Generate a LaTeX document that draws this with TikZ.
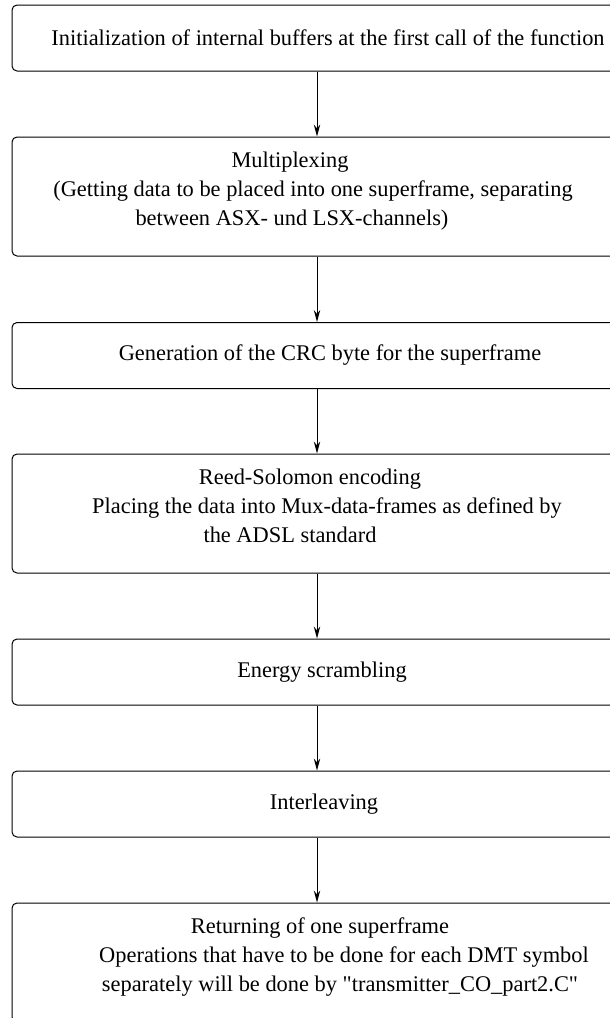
\documentclass[tikz,border=0pt]{standalone}
\usepackage{fontspec}
\setmainfont{Liberation Serif}
\usetikzlibrary{arrows.meta}

\newcommand{\pushr}[1]{\mbox{}\hspace*{#1}}
\newcommand{\pushl}[1]{\hspace*{#1}\mbox{}}
\newcommand{\bajo}{\rule[-8pt]{0pt}{8pt}}

\begin{document}
\begin{tikzpicture}[x=0.5pt, y=-0.5pt,
	caja/.style={draw, rounded corners=2.5pt, line width=0.5pt, minimum width=305pt,
		inner sep=0pt, align=center, font=\fontsize{11.2}{14.6}\selectfont},
	corta/.style={caja, minimum height=33pt},
	larga/.style={caja, minimum height=59.5pt},
	flecha/.style={-{Stealth[length=6pt, width=3.2pt]}, line width=0.5pt}]

\clip (0,0) rectangle (610,1018);

% Bloques
\node[corta] (init) at (317,38) {\pushr{11pt}Initialization of internal buffers at the first call of the function};

\node[larga] (mux) at (317,196.5) {Multiplexing\pushl{27pt}\\
	(Getting data to be placed into one superframe, separating\pushl{4pt}\\
	between ASX- und LSX-channels)\pushl{25pt}\bajo};

\node[corta] (crc) at (317,355.5) {\pushr{13pt}Generation of the CRC byte for the superframe};

\node[larga] (rs) at (317,513.5) {Reed-Solomon encoding\pushl{7pt}\\
	\pushr{10pt}Placing the data into Mux-data-frames as defined by\\
	the ADSL standard\pushl{27pt}\bajo};

\node[corta] (scr) at (317,672) {\pushr{5pt}Energy scrambling};

\node[corta] (ilv) at (317,804) {\pushr{7pt}Interleaving};

\node[larga] (ret) at (317,962.5) {\pushr{3pt}Returning of one superframe\\
	\pushr{27pt}Operations that have to be done for each DMT symbol\\
	\pushr{23pt}separately will be done by \textquotedbl transmitter\_CO\_part2.C\textquotedbl\bajo};

% Flechas
\foreach \a/\b in {init/mux, mux/crc, crc/rs, rs/scr, scr/ilv, ilv/ret}
	\draw[flecha] (\a) -- (\b);

\end{tikzpicture}
\end{document}
